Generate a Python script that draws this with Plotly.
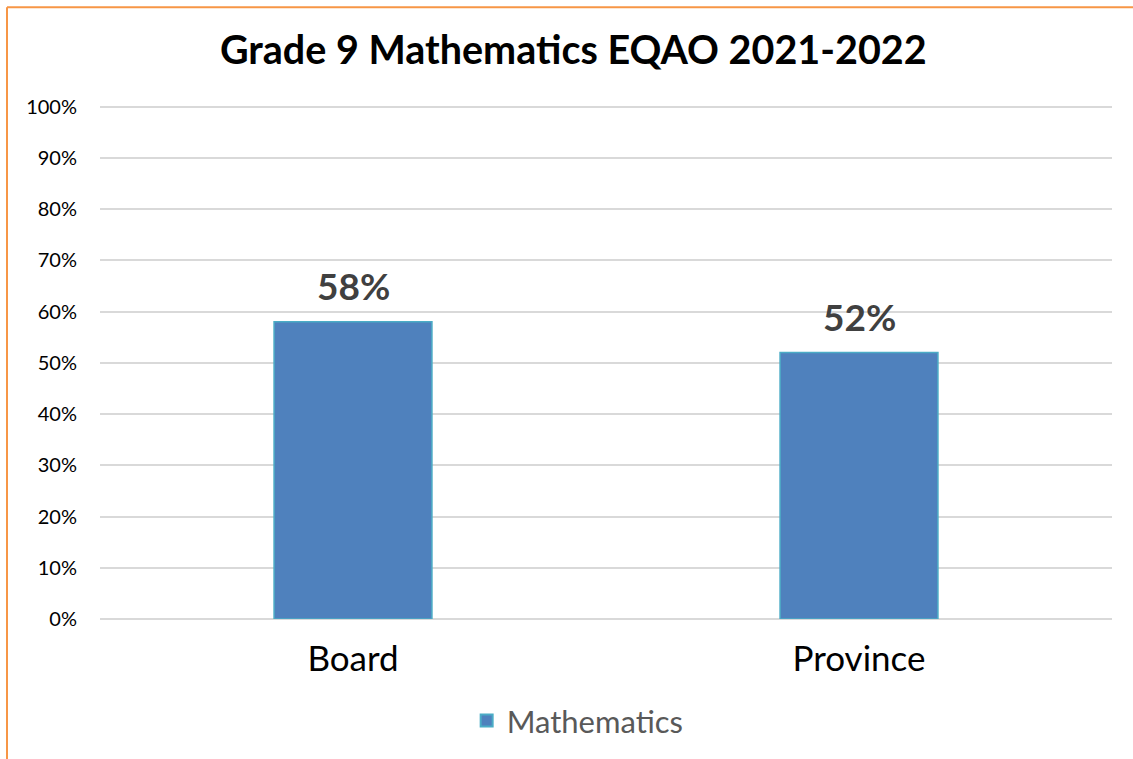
import plotly.graph_objects as go

categories = ["Board", "Province"]
values = [0.58, 0.52]
value_labels = ["58%", "52%"]
series_name = "Mathematics"
tick_vals = [i / 10 for i in range(11)]
tick_text = [f"{i * 10}%" for i in range(11)]

fig = go.Figure()
fig.add_trace(go.Bar(
    x=categories, y=values, name=series_name,
    marker=dict(color="#4f81bd", line=dict(color="#4bacc6", width=1.5)),
    width=0.312,
))

for c, v, t in zip(categories, values, value_labels):
    fig.add_annotation(x=c, y=v, text=f"<b>{t}</b>", showarrow=False,
                       yanchor="bottom", yshift=12,
                       font=dict(family="Lato", size=37, color="#404040"))

fig.update_layout(
    width=1133, height=759,
    margin=dict(l=100, r=21, t=105, b=139),
    paper_bgcolor="white", plot_bgcolor="white",
    title=dict(text="<b>Grade 9 Mathematics EQAO 2021-2022</b>",
               x=0.506, xanchor="center", y=0.934, yanchor="middle",
               font=dict(family="Lato", size=39.5, color="black")),
    showlegend=True,
    legend=dict(orientation="h", x=0.472, xanchor="center", y=-0.196, yanchor="middle",
                font=dict(family="Lato", size=31, color="#595959"),
                itemsizing="constant"),
    xaxis=dict(tickfont=dict(family="Lato", size=35, color="black"),
               showline=False, ticks="", ticklabelstandoff=16),
    yaxis=dict(range=[0, 1.003], tickvals=tick_vals, ticktext=tick_text,
               tickfont=dict(family="Lato", size=20, color="black"),
               showgrid=True, gridcolor="#d9d9d9", gridwidth=2,
               zeroline=True, zerolinecolor="#d9d9d9", zerolinewidth=2,
               ticks="", ticklabelstandoff=22),
    shapes=[
        dict(type="line", xref="paper", yref="paper", x0=-0.0919, x1=-0.0919,
             y0=-0.28, y1=1.1903, line=dict(color="#f79646", width=2)),
        dict(type="line", xref="paper", yref="paper", x0=-0.0919, x1=1.03,
             y0=1.1903, y1=1.1903, line=dict(color="#f79646", width=2)),
    ],
)

fig.write_html("out.html", config={"displayModeBar": False},
               post_script="document.body.style.margin='0';")
